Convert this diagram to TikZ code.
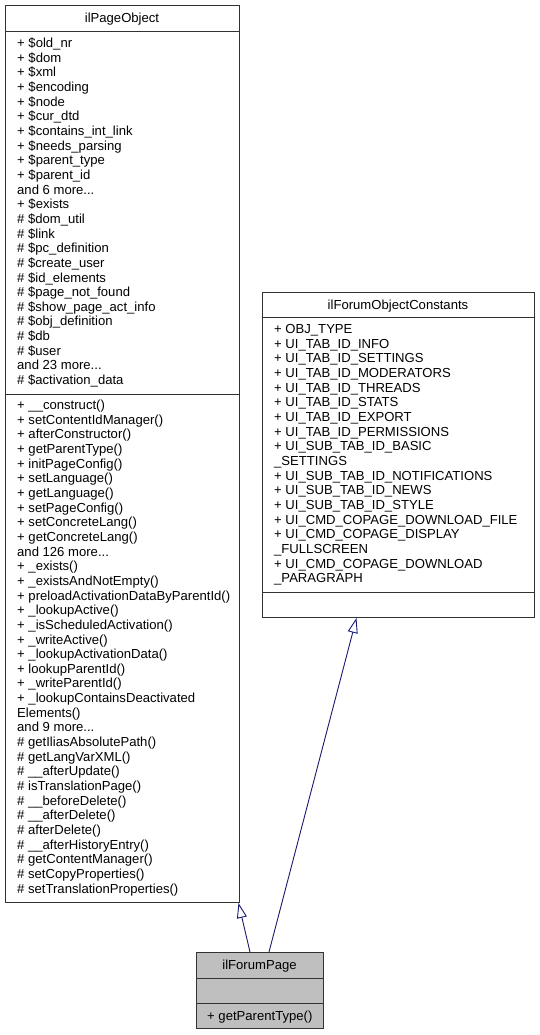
\documentclass[tikz,border=0pt]{standalone}
\usepackage{fontspec}
\setmainfont{Liberation Sans}
\usetikzlibrary{arrows.meta}
\definecolor{edgeblue}{RGB}{25,25,112}
\definecolor{boxline}{RGB}{50,50,50}
\definecolor{boxfill}{RGB}{191,191,191}
\newcommand{\mydots}{...}
\tikzset{
  classbox/.style={draw=boxline, line width=1pt, inner sep=0pt, anchor=north west},
  sepline/.style={draw=boxline, line width=1pt},
  member/.style={anchor=base west, inner sep=0pt, font=\fontsize{13.1}{14.65}\selectfont},
  ctitle/.style={anchor=base, inner sep=0pt, font=\fontsize{13.1}{14.65}\selectfont},
  inherit/.style={draw=edgeblue, line width=0.9pt, -{Triangle[open, length=15pt, width=10pt]}}
}
\begin{document}
\begin{tikzpicture}[x=1pt, y=-1pt]
\useasboundingbox (0,0) rectangle (539,1035);

% ---------------- ilPageObject ----------------
\node[classbox, minimum width=234pt, minimum height=897pt] (po) at (5,5) {};
\draw[sepline] (5,32) -- (239,32);
\draw[sepline] (5,394) -- (239,394);
\node[ctitle] (potitle) at (122,23) {ilPageObject};
\foreach \t [count=\i] in {
  {+ \$old\_nr},{+ \$dom},{+ \$xml},{+ \$encoding},{+ \$node},{+ \$cur\_dtd},
  {+ \$contains\_int\_link},{+ \$needs\_parsing},{+ \$parent\_type},{+ \$parent\_id},
  {and 6 more\mydots},{+ \$exists},{\# \$dom\_util},{\# \$link},{\# \$pc\_definition},
  {\# \$create\_user},{\# \$id\_elements},{\# \$page\_not\_found},{\# \$show\_page\_act\_info},
  {\# \$obj\_definition},{\# \$db},{\# \$user},{and 23 more\mydots},{\# \$activation\_data}}
  \node[member] (poa\i) at (17,{43+14.65*(\i-1)+4.6}) {\t};
\foreach \t [count=\i] in {
  {+ \_\_construct()},{+ setContentIdManager()},{+ afterConstructor()},{+ getParentType()},
  {+ initPageConfig()},{+ setLanguage()},{+ getLanguage()},{+ setPageConfig()},
  {+ setConcreteLang()},{+ getConcreteLang()},{and 126 more\mydots},{+ \_exists()},
  {+ \_existsAndNotEmpty()},{+ preloadActivationDataByParentId()},{+ \_lookupActive()},
  {+ \_isScheduledActivation()},{+ \_writeActive()},{+ \_lookupActivationData()},
  {+ lookupParentId()},{+ \_writeParentId()},{+ \_lookupContainsDeactivated},
  {Elements()},{and 9 more\mydots},{\# getIliasAbsolutePath()},{\# getLangVarXML()},
  {\# \_\_afterUpdate()},{\# isTranslationPage()},{\# \_\_beforeDelete()},
  {\# \_\_afterDelete()},{\# afterDelete()},{\# \_\_afterHistoryEntry()},
  {\# getContentManager()},{\# setCopyProperties()},{\# setTranslationProperties()}}
  \node[member] (pom\i) at (17,{405+14.65*(\i-1)+4.6}) {\t};

% ---------------- ilForumObjectConstants ----------------
\node[classbox, minimum width=272pt, minimum height=325pt] (foc) at (262,292) {};
\draw[sepline] (262,317) -- (534,317);
\draw[sepline] (262,592) -- (534,592);
\node[ctitle] (foctitle) at (398,309) {ilForumObjectConstants};
\foreach \t [count=\i] in {
  {+ OBJ\_TYPE},{+ UI\_TAB\_ID\_INFO},{+ UI\_TAB\_ID\_SETTINGS},{+ UI\_TAB\_ID\_MODERATORS},
  {+ UI\_TAB\_ID\_THREADS},{+ UI\_TAB\_ID\_STATS},{+ UI\_TAB\_ID\_EXPORT},
  {+ UI\_TAB\_ID\_PERMISSIONS},{+ UI\_SUB\_TAB\_ID\_BASIC},{\_SETTINGS},
  {+ UI\_SUB\_TAB\_ID\_NOTIFICATIONS},{+ UI\_SUB\_TAB\_ID\_NEWS},{+ UI\_SUB\_TAB\_ID\_STYLE},
  {+ UI\_CMD\_COPAGE\_DOWNLOAD\_FILE},{+ UI\_CMD\_COPAGE\_DISPLAY},{\_FULLSCREEN},
  {+ UI\_CMD\_COPAGE\_DOWNLOAD},{\_PARAGRAPH}}
  \node[member] (foca\i) at (274,{329+14.65*(\i-1)+4.6}) {\t};

% ---------------- ilForumPage ----------------
\node[classbox, fill=boxfill, minimum width=127pt, minimum height=76pt] (fp) at (196,952) {};
\draw[sepline] (196,978) -- (323,978);
\draw[sepline] (196,1003) -- (323,1003);
\node[ctitle] (fptitle) at (259.5,969.6) {ilForumPage};
\node[member] (fpm1) at (207,1020) {+ getParentType()};

% ---------------- inheritance ----------------
\draw[inherit] ([xshift=54pt]fp.north west) -- ([xshift=-1.5pt]po.south east);
\draw[inherit] ([xshift=73pt]fp.north west) -- ([xshift=94.5pt]foc.south west);
\end{tikzpicture}
\end{document}
